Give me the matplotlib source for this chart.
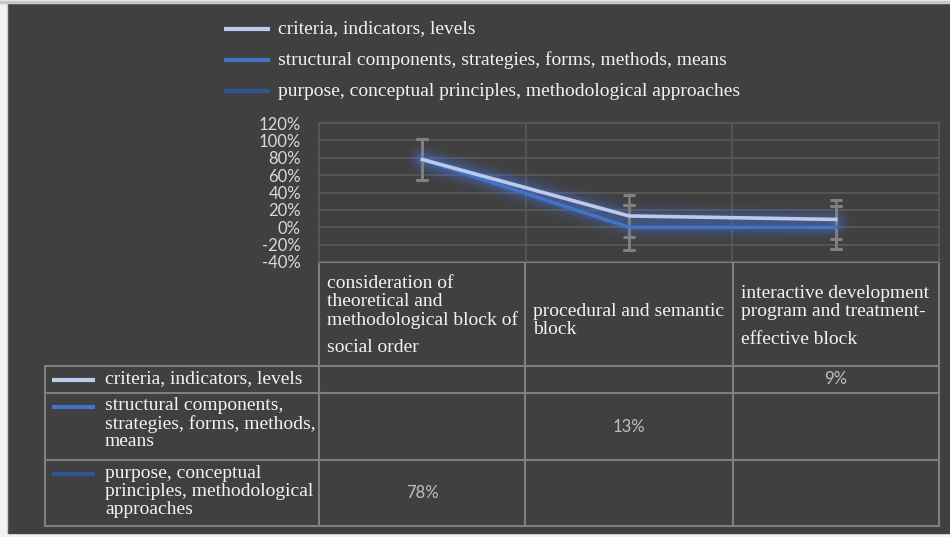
import numpy as np
import matplotlib
matplotlib.use('Agg')
import matplotlib.pyplot as plt

# data
categories = [['consideration of', 'theoretical and', 'methodological block of', 'social order'],
              ['procedural and semantic', 'block'],
              ['interactive development', 'program and treatment-', 'effective block']]
series_names = ['criteria, indicators, levels',
                'structural components, strategies, forms, methods, means',
                'purpose, conceptual principles, methodological approaches']
table_names = [['criteria, indicators, levels'],
               ['structural components,', 'strategies, forms, methods,', 'means'],
               ['purpose, conceptual', 'principles, methodological', 'approaches']]
criteria = [0.78, 0.13, 0.09]
structural = [0.78, 0.0, 0.0]
purpose = [0.78, 0.0, 0.0]
err_criteria = [0.24, 0.24, 0.225]
err_structural = [0.24, 0.26, 0.25]
err_purpose = [0.24, 0.26, 0.25]
table_cells = [['', '', '9%'], ['', '13%', ''], ['78%', '', '']]
yticks = [-0.4, -0.2, 0, 0.2, 0.4, 0.6, 0.8, 1.0, 1.2]

colors = ['#bccbea', '#4472c4', '#2f5597']
bg = '#404040'
grid_c = '#5a5a5a'
tab_c = '#7f7f7f'
serif = 'Liberation Serif'
fs = 14

W, H = 950, 537
fig = plt.figure(figsize=(W / 100, H / 100), dpi=100)
fig.patch.set_facecolor('#f2f2f2')

# overlay in pixel units for background, legend and table
ov = fig.add_axes([0, 0, 1, 1], zorder=0)
ov.set_xlim(0, W)
ov.set_ylim(H, 0)
ov.axis('off')
ov.add_patch(plt.Rectangle((8, 4), W - 8, 529, color=bg, zorder=0))
ov.plot([0, W], [1.5, 1.5], color='#c8c8c8', lw=2.5)
ov.plot([7, 7], [4, 533], color='#cfcfcf', lw=1)

# top legend
for i, name in enumerate(series_names):
    y = 29 + i * 31
    ov.plot([224, 270], [y, y], color=colors[i], lw=3, solid_capstyle='butt')
    ov.text(278, y, name, color='#f2f2f2', fontsize=fs, family=serif, va='center')

# chart axes
x0, x1, yt, yb = 319, 939, 123, 262
ax = fig.add_axes([x0 / W, 1 - yb / H, (x1 - x0) / W, (yb - yt) / H], zorder=1)
ax.set_facecolor('none')
ax.set_xlim(0, 3)
ax.set_ylim(-0.4, 1.2)
ax.set_yticks(yticks)
ax.set_yticklabels(['%d%%' % round(v * 100) for v in yticks])
ax.tick_params(axis='y', length=0, pad=13, labelsize=12, labelcolor='#d9d9d9')
for lab in ax.get_yticklabels():
    lab.set_family('Lato')
ax.set_xticks([])
for v in yticks:
    ax.axhline(v, color=grid_c, lw=1.2, zorder=1)
for v in [1, 2]:
    ax.axvline(v, color=grid_c, lw=1.2, zorder=1)
for s in ax.spines.values():
    s.set_color(grid_c)
    s.set_linewidth(1.2)
ax.spines['bottom'].set_visible(False)

xs = np.arange(3) + 0.5
# glow
for yv in [structural, criteria]:
    for lw, a in [(20, 0.05), (15, 0.07), (10, 0.10), (6, 0.14)]:
        ax.plot(xs, yv, color='#4a7ae0', lw=lw, alpha=a, solid_capstyle='round', zorder=2)
for yv, e in [(purpose, err_purpose), (structural, err_structural), (criteria, err_criteria)]:
    ax.errorbar(xs, yv, yerr=e, fmt='none', ecolor='#808080', elinewidth=1.8,
                capsize=4.5, capthick=2.2, zorder=3)
ax.plot(xs, purpose, color=colors[2], lw=2.6, zorder=4)
ax.plot(xs, structural, color=colors[1], lw=2.6, zorder=4)
ax.plot(xs, criteria, color=colors[0], lw=2.6, zorder=5)

# data table
cols = [319, 525, 733, 939]
rows = [366, 393, 460, 526]
for c in cols:
    ov.plot([c, c], [262, 526], color=tab_c, lw=1.5)
ov.plot([45, 45], [366, 526], color=tab_c, lw=1.5)
for r in rows:
    ov.plot([45, 939], [r, r], color=tab_c, lw=1.5)
ov.plot([319, 939], [262, 262], color=tab_c, lw=1.5)

head_y = [[283, 301, 320, 347], [311, 329], [294, 312, 339]]
for i, lines in enumerate(categories):
    for ln, yy in zip(lines, head_y[i]):
        ov.text(cols[i] + 8, yy, ln, color='#f2f2f2', fontsize=fs, family=serif, va='center')

for i, lines in enumerate(table_names):
    r_top = rows[i]
    ov.plot([52, 95], [r_top + 14, r_top + 14], color=colors[i], lw=3, solid_capstyle='butt')
    for k, ln in enumerate(lines):
        ov.text(105, r_top + 13 + 18 * k, ln, color='#f2f2f2', fontsize=fs, family=serif,
                va='center')
    for j in range(3):
        if table_cells[i][j]:
            ov.text((cols[j] + cols[j + 1]) / 2, (rows[i] + rows[i + 1]) / 2, table_cells[i][j],
                    color='#bfbfbf', fontsize=12, family='Lato', ha='center', va='center')

fig.savefig('out.png', dpi=100, facecolor=fig.get_facecolor())
